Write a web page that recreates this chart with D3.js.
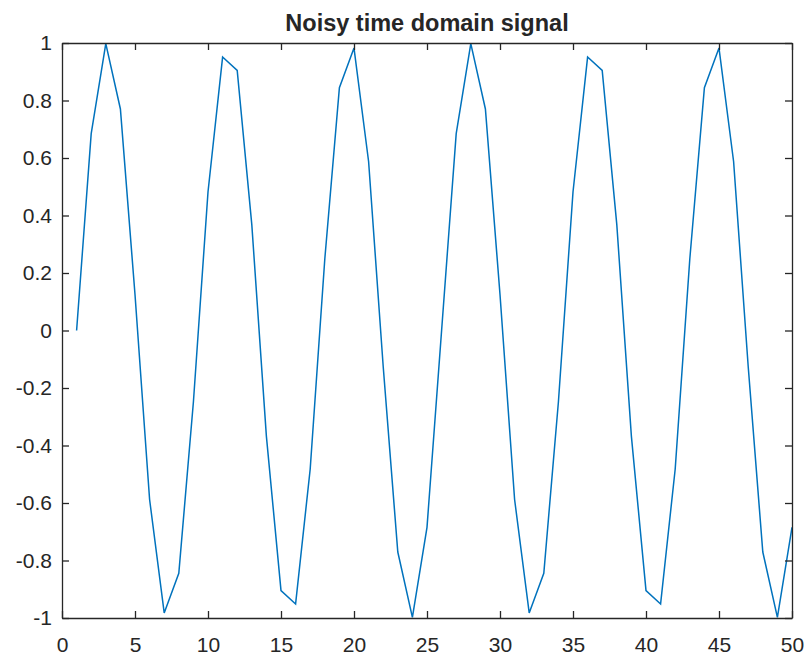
<!DOCTYPE html>
<html>
<head>
<meta charset="utf-8">
<script src="https://cdn.jsdelivr.net/npm/d3@7"></script>
<style>
  html, body { margin: 0; padding: 0; background: #ffffff; }
  svg { display: block; }
  text { font-family: "Liberation Sans", Arial, Helvetica, sans-serif; fill: #262626; }
</style>
</head>
<body>
<svg id="chart" width="810" height="661"></svg>
<script>
// Sample index (1..50) and signal amplitude
const sampleIndex = [
  1, 2, 3, 4, 5, 6, 7, 8, 9, 10,
  11, 12, 13, 14, 15, 16, 17, 18, 19, 20,
  21, 22, 23, 24, 25, 26, 27, 28, 29, 30,
  31, 32, 33, 34, 35, 36, 37, 38, 39, 40,
  41, 42, 43, 44, 45, 46, 47, 48, 49, 50
];
const signal = [
  0.0000, 0.6845, 0.9980, 0.7705, 0.1253, -0.5878, -0.9823, -0.8443, -0.2487, 0.4818,
  0.9511, 0.9048, 0.3681, -0.3681, -0.9048, -0.9511, -0.4818, 0.2487, 0.8443, 0.9823,
  0.5878, -0.1253, -0.7705, -0.9980, -0.6845, 0.0000, 0.6845, 0.9980, 0.7705, 0.1253,
  -0.5878, -0.9823, -0.8443, -0.2487, 0.4818, 0.9511, 0.9048, 0.3681, -0.3681, -0.9048,
  -0.9511, -0.4818, 0.2487, 0.8443, 0.9823, 0.5878, -0.1253, -0.7705, -0.9980, -0.6845
];

const xTicks = [0, 5, 10, 15, 20, 25, 30, 35, 40, 45, 50];
const yTicks = [-1, -0.8, -0.6, -0.4, -0.2, 0, 0.2, 0.4, 0.6, 0.8, 1];
const yTickLabels = ["-1", "-0.8", "-0.6", "-0.4", "-0.2", "0", "0.2", "0.4", "0.6", "0.8", "1"];
const titleText = "Noisy time domain signal";

const margin = { left: 62, top: 43, right: 18, bottom: 43 };
const width = 810, height = 661;
const innerW = width - margin.left - margin.right;
const innerH = height - margin.top - margin.bottom;
const tickLen = 7;
const axisColor = "#262626";
const tickFont = 21;

const svg = d3.select("#chart");
const g = svg.append("g").attr("transform", `translate(${margin.left},${margin.top})`);

const x = d3.scaleLinear().domain([0, 50]).range([0, innerW]);
const y = d3.scaleLinear().domain([-1, 1]).range([innerH, 0]);

// Signal trace, clipped to the axes box
svg.append("defs").append("clipPath").attr("id", "plot-clip")
  .append("rect").attr("x", 0).attr("y", -1).attr("width", innerW).attr("height", innerH + 2);

const line = d3.line()
  .x((d, i) => x(sampleIndex[i]))
  .y(d => y(d));

g.append("path")
  .datum(signal)
  .attr("clip-path", "url(#plot-clip)")
  .attr("fill", "none")
  .attr("stroke", "#0072BD")
  .attr("stroke-width", 1.5)
  .attr("stroke-linejoin", "miter")
  .attr("d", line);

// Axes: ticks point inward, box drawn on all four sides
const fmtX = d => String(d);
const fmtY = d => yTickLabels[yTicks.indexOf(d)];

function styleAxis(sel) {
  sel.attr("font-size", tickFont).attr("font-family", "'Liberation Sans', Arial, Helvetica, sans-serif");
  sel.select(".domain").attr("stroke", axisColor).attr("stroke-width", 1.3).attr("fill", "none");
  sel.selectAll(".tick line").attr("stroke", axisColor).attr("stroke-width", 1.3);
  sel.selectAll(".tick text").attr("fill", axisColor).style("font-size", tickFont + "px");
}

const bottomAxis = d3.axisBottom(x).tickValues(xTicks).tickFormat(fmtX)
  .tickSizeInner(-tickLen).tickSizeOuter(0).tickPadding(19);
g.append("g").attr("transform", `translate(0,${innerH})`).call(bottomAxis).call(styleAxis);

const topAxis = d3.axisTop(x).tickValues(xTicks).tickFormat("")
  .tickSizeInner(-tickLen).tickSizeOuter(0);
g.append("g").call(topAxis).call(styleAxis);

const leftAxis = d3.axisLeft(y).tickValues(yTicks).tickFormat(fmtY)
  .tickSizeInner(-tickLen).tickSizeOuter(0).tickPadding(10);
g.append("g").call(leftAxis).call(styleAxis);

const rightAxis = d3.axisRight(y).tickValues(yTicks).tickFormat("")
  .tickSizeInner(-tickLen).tickSizeOuter(0);
g.append("g").attr("transform", `translate(${innerW},0)`).call(rightAxis).call(styleAxis);

// Title
svg.append("text")
  .attr("x", margin.left + innerW / 2)
  .attr("y", 31)
  .attr("text-anchor", "middle")
  .style("font-size", "23.5px")
  .attr("font-weight", "bold")
  .attr("fill", "#000000")
  .attr("font-family", "'Liberation Sans', Arial, Helvetica, sans-serif")
  .text(titleText);
</script>
</body>
</html>
